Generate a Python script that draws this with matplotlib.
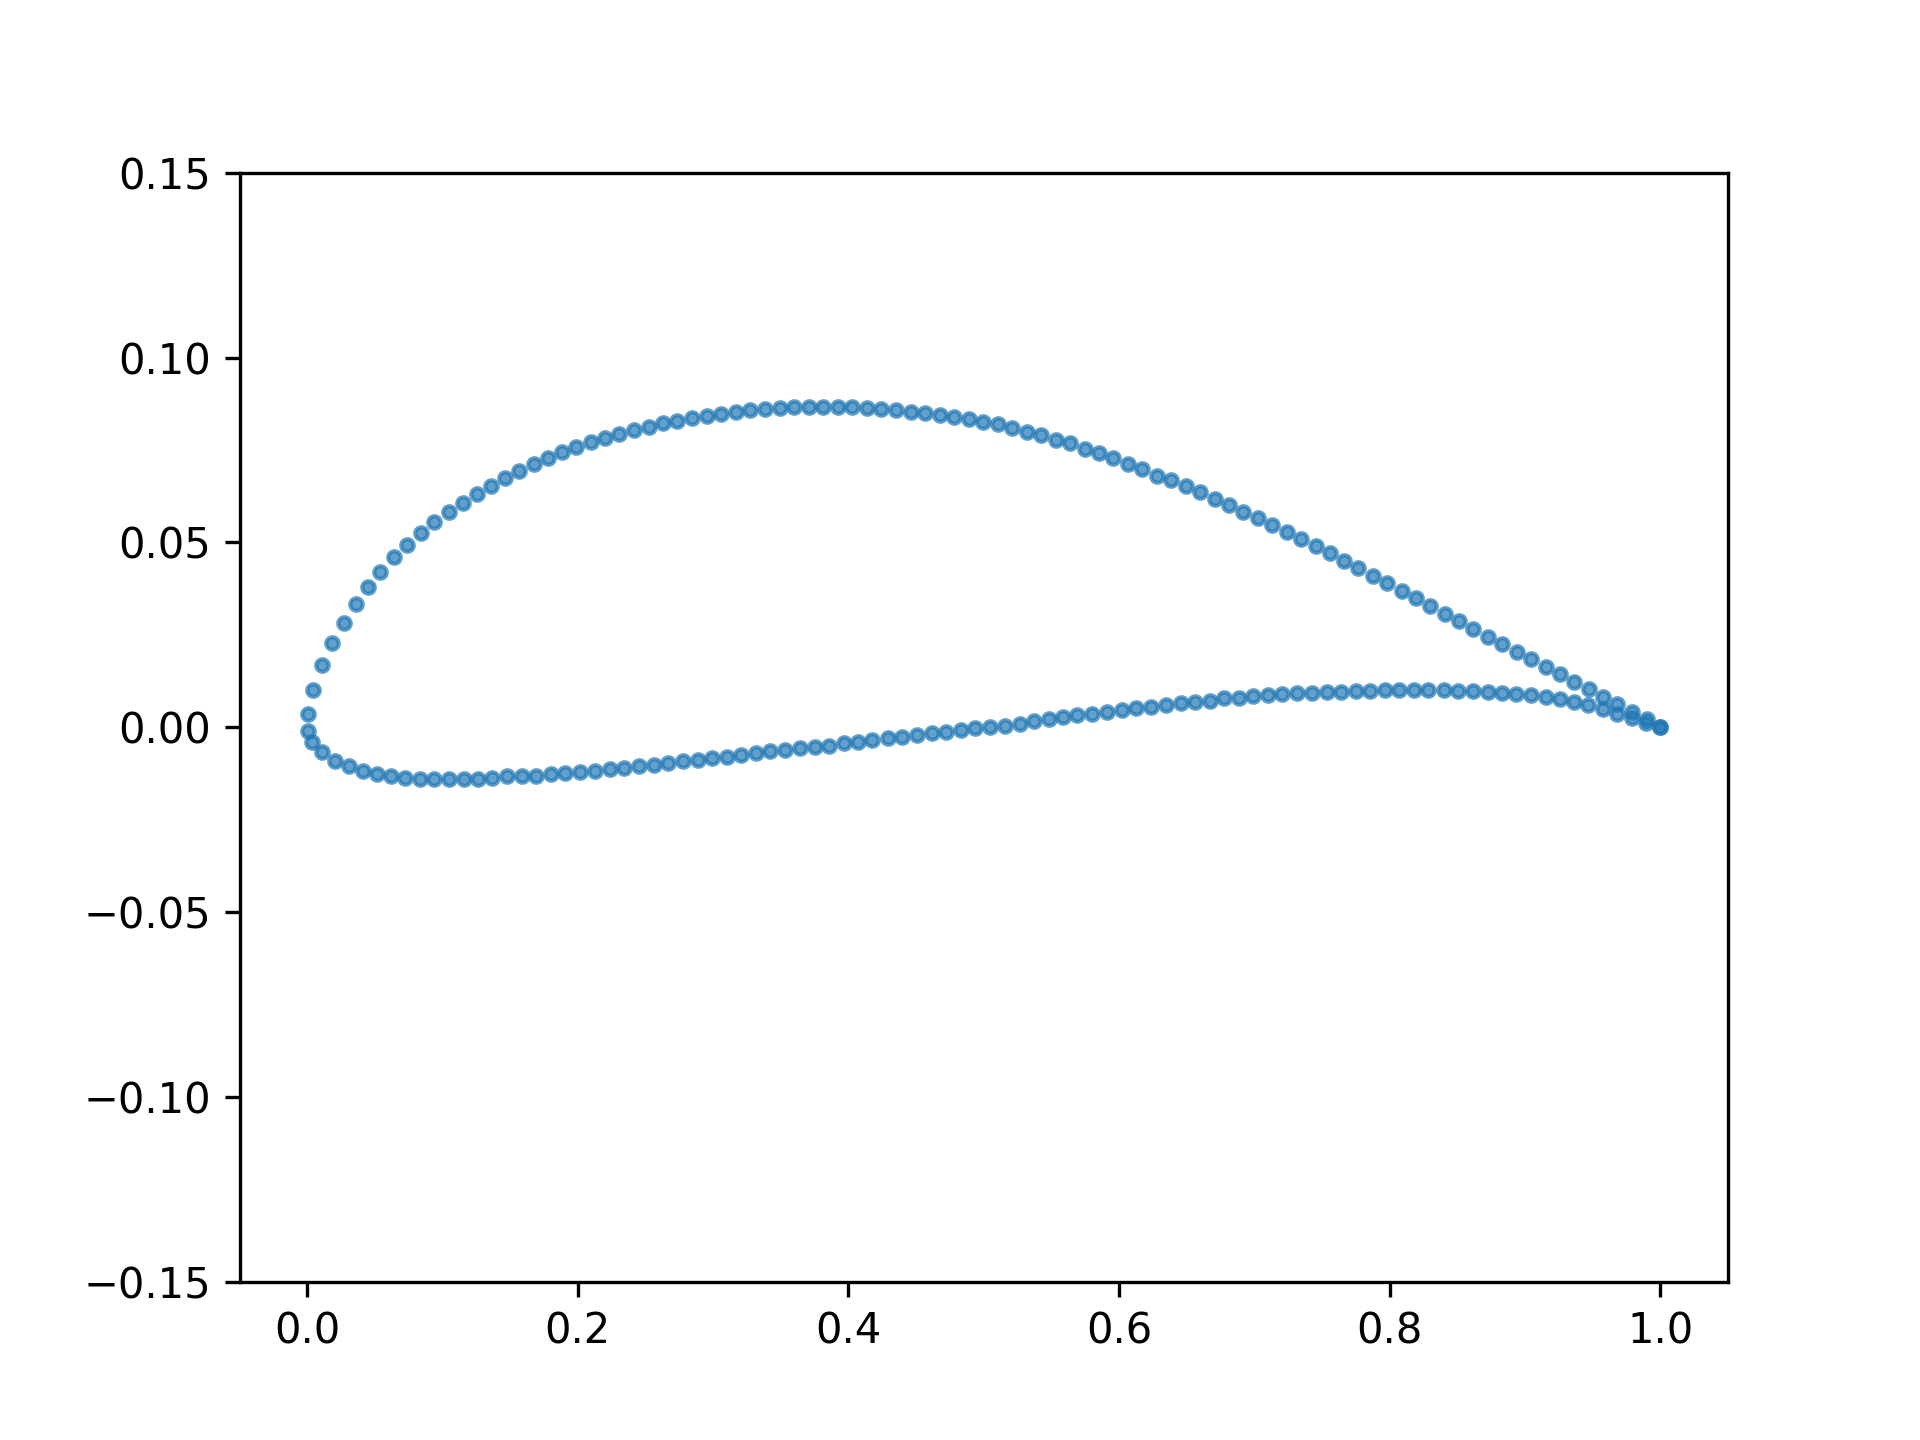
import numpy as np
import matplotlib.pyplot as plt

# Airfoil coordinates (leading edge -> trailing edge)
x_upper = [0.0005, 0.0047, 0.0109, 0.0183, 0.0271, 0.0363, 0.0449, 0.0543, 0.0641, 0.0737,
           0.0843, 0.0942, 0.1048, 0.1151, 0.1255, 0.1361, 0.1464, 0.1565, 0.1676, 0.1780,
           0.1886, 0.1989, 0.2100, 0.2204, 0.2309, 0.2415, 0.2524, 0.2630, 0.2736, 0.2842,
           0.2955, 0.3061, 0.3172, 0.3276, 0.3386, 0.3492, 0.3598, 0.3709, 0.3813, 0.3923,
           0.4027, 0.4138, 0.4244, 0.4350, 0.4461, 0.4569, 0.4675, 0.4781, 0.4892, 0.4995,
           0.5106, 0.5212, 0.5323, 0.5427, 0.5537, 0.5641, 0.5747, 0.5853, 0.5956, 0.6067,
           0.6171, 0.6281, 0.6383, 0.6494, 0.6597, 0.6708, 0.6814, 0.6917, 0.7024, 0.7127,
           0.7238, 0.7344, 0.7453, 0.7558, 0.7664, 0.7768, 0.7879, 0.7982, 0.8093, 0.8194,
           0.8298, 0.8409, 0.8512, 0.8617, 0.8728, 0.8832, 0.8943, 0.9044, 0.9153, 0.9259,
           0.9365, 0.9473, 0.9579, 0.9683, 0.9794, 0.9900, 1.0000]
y_upper = [0.0035, 0.0101, 0.0168, 0.0227, 0.0281, 0.0333, 0.0379, 0.0419, 0.0461, 0.0493,
           0.0525, 0.0554, 0.0581, 0.0606, 0.0630, 0.0653, 0.0673, 0.0693, 0.0712, 0.0728,
           0.0744, 0.0757, 0.0771, 0.0782, 0.0793, 0.0804, 0.0813, 0.0822, 0.0828, 0.0836,
           0.0843, 0.0847, 0.0854, 0.0858, 0.0862, 0.0864, 0.0867, 0.0867, 0.0867, 0.0867,
           0.0866, 0.0864, 0.0861, 0.0857, 0.0854, 0.0850, 0.0845, 0.0840, 0.0834, 0.0827,
           0.0820, 0.0810, 0.0800, 0.0791, 0.0777, 0.0768, 0.0753, 0.0743, 0.0728, 0.0712,
           0.0699, 0.0680, 0.0669, 0.0653, 0.0637, 0.0617, 0.0601, 0.0583, 0.0567, 0.0547,
           0.0527, 0.0509, 0.0491, 0.0470, 0.0451, 0.0430, 0.0410, 0.0391, 0.0368, 0.0350,
           0.0328, 0.0305, 0.0288, 0.0266, 0.0243, 0.0225, 0.0203, 0.0185, 0.0164, 0.0143,
           0.0123, 0.0103, 0.0083, 0.0063, 0.0042, 0.0021, 0.0000]

x_lower = [0.0005, 0.0035, 0.0109, 0.0208, 0.0308, 0.0412, 0.0515, 0.0622, 0.0727, 0.0836,
           0.0942, 0.1048, 0.1157, 0.1262, 0.1368, 0.1479, 0.1587, 0.1694, 0.1805, 0.1910,
           0.2019, 0.2125, 0.2236, 0.2341, 0.2450, 0.2561, 0.2667, 0.2778, 0.2889, 0.2992,
           0.3103, 0.3209, 0.3315, 0.3424, 0.3535, 0.3645, 0.3751, 0.3857, 0.3966, 0.4071,
           0.4177, 0.4293, 0.4397, 0.4508, 0.4619, 0.4725, 0.4836, 0.4939, 0.5050, 0.5156,
           0.5267, 0.5372, 0.5481, 0.5587, 0.5692, 0.5804, 0.5913, 0.6023, 0.6129, 0.6235,
           0.6346, 0.6455, 0.6565, 0.6671, 0.6777, 0.6888, 0.6992, 0.7102, 0.7206, 0.7317,
           0.7428, 0.7534, 0.7640, 0.7749, 0.7855, 0.7966, 0.8072, 0.8180, 0.8286, 0.8400,
           0.8508, 0.8612, 0.8723, 0.8829, 0.8935, 0.9044, 0.9153, 0.9259, 0.9365, 0.9469,
           0.9575, 0.9683, 0.9790, 0.9896, 1.0000]
y_lower = [-0.0009, -0.0039, -0.0068, -0.0091, -0.0105, -0.0118, -0.0127, -0.0131, -0.0137, -0.0140,
           -0.0140, -0.0140, -0.0140, -0.0140, -0.0137, -0.0132, -0.0131, -0.0131, -0.0127, -0.0123,
           -0.0120, -0.0118, -0.0113, -0.0110, -0.0105, -0.0102, -0.0098, -0.0091, -0.0089, -0.0084,
           -0.0080, -0.0075, -0.0071, -0.0064, -0.0062, -0.0057, -0.0053, -0.0050, -0.0044, -0.0039,
           -0.0035, -0.0030, -0.0026, -0.0021, -0.0017, -0.0012, -0.0008, -0.0001, 0.0001, 0.0004,
           0.0010, 0.0017, 0.0022, 0.0027, 0.0033, 0.0035, 0.0042, 0.0047, 0.0051, 0.0054,
           0.0060, 0.0065, 0.0069, 0.0072, 0.0078, 0.0080, 0.0084, 0.0087, 0.0090, 0.0092,
           0.0093, 0.0096, 0.0096, 0.0099, 0.0099, 0.0101, 0.0101, 0.0101, 0.0101, 0.0101,
           0.0099, 0.0099, 0.0094, 0.0092, 0.0089, 0.0087, 0.0083, 0.0075, 0.0067, 0.0060,
           0.0049, 0.0036, 0.0024, 0.0011, 0.0000]

# trailing edge -> upper -> leading edge -> lower -> trailing edge
x = np.concatenate([x_upper[::-1], x_lower])
y = np.concatenate([y_upper[::-1], y_lower])

plt.figure(figsize=(6.4, 4.8), dpi=300)
plt.plot(x, y, 'o', markersize=3, alpha=0.7)
plt.ylim(-0.15, 0.15)
plt.savefig("out.png", dpi=300)
